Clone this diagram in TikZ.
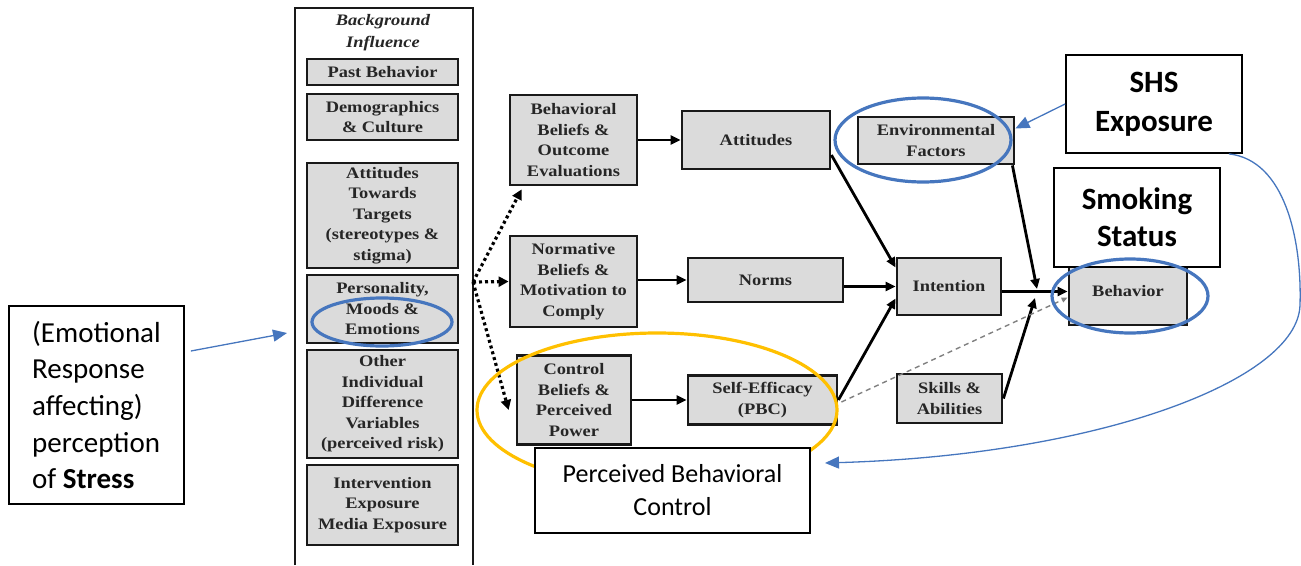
\documentclass[tikz,border=0pt]{standalone}
\usepackage{fontspec}
\setmainfont{Liberation Serif}
\newfontfamily\dfont{Liberation Serif}[FakeStretch=1.15]
\newfontfamily\calfont{Carlito}
\usetikzlibrary{arrows.meta}
\definecolor{boxgray}{RGB}{219,219,219}
\definecolor{annblue}{RGB}{70,118,190}
\definecolor{annyellow}{RGB}{255,192,0}
\tikzset{
  gbox/.style={draw=black!90, line width=2.8pt, fill=boxgray, align=center,
    font=\dfont\bfseries\fontsize{16}{20.5}\selectfont, inner sep=1pt, text=black!85},
  abox/.style={draw=black, line width=1.8pt, fill=white, align=center, inner sep=2pt},
  arr/.style={line width=2.8pt, -{Triangle[length=10pt,width=9pt]}},
  dotarr/.style={line width=3.2pt, dash pattern=on 3pt off 3pt, -{Triangle[length=10pt,width=10pt]}},
  dasharr/.style={gray, line width=1.4pt, dash pattern=on 5pt off 4pt, -{Triangle[length=6pt,width=5pt]}},
  bluearr/.style={annblue, line width=1.3pt, -{Triangle[length=14pt,width=12pt]}},
  blueell/.style={annblue, line width=3.2pt},
  yellell/.style={annyellow, line width=3.2pt},
}
\begin{document}
\begin{tikzpicture}[x=1pt,y=-1pt]
\useasboundingbox (0,0) rectangle (1301,565);
% background influence column
\draw[line width=2.6pt, black!90] (295,565) -- (295,8) -- (473,8) -- (473,565);
\node[font=\dfont\bfseries\itshape\fontsize{16}{22}\selectfont, align=center, text=black!85] (bgtitle) at (383,33) {Background\\Influence};
\node[gbox, minimum width=151pt, minimum height=26pt] (past) at (382.5,72) {Past Behavior};
\node[gbox, minimum width=151pt, minimum height=46pt] (demo) at (382.5,117) {Demographics\\\& Culture};
\node[gbox, minimum width=151pt, minimum height=105pt] (att2) at (382.5,215.5) {Attitudes\\Towards\\Targets\\(stereotypes \&\\stigma)};
\node[gbox, minimum width=151pt, minimum height=68pt] (pers) at (382.5,309) {Personality,\\Moods \&\\Emotions};
\node[gbox, minimum width=151pt, minimum height=108pt] (other) at (382.5,404) {Other\\Individual\\Difference\\Variables\\(perceived risk)};
\node[gbox, minimum width=151pt, minimum height=80pt] (interv) at (382.5,505) {Intervention\\Exposure\\Media Exposure};
\coordinate (fan) at (473,282);
% middle
\node[gbox, minimum width=127pt, minimum height=90pt] (bb) at (573.5,140) {Behavioral\\Beliefs \&\\Outcome\\Evaluations};
\node[gbox, minimum width=148pt, minimum height=58pt] (att) at (756,140) {Attitudes};
\node[gbox, minimum width=127pt, minimum height=91pt] (nb) at (573.5,281.5) {Normative\\Beliefs \&\\Motivation to\\Comply};
\node[gbox, minimum width=155pt, minimum height=44pt] (norms) at (765.5,280) {Norms};
\node[gbox, minimum width=114pt, minimum height=89pt] (cb) at (574,400) {Control\\Beliefs \&\\Perceived\\Power};
\node[gbox, minimum width=149pt, minimum height=49pt] (se) at (762.5,400) {Self-Efficacy\\(PBC)};
% right
\node[gbox, minimum width=156pt, minimum height=47pt] (env) at (936,140.5) {Environmental\\Factors};
\node[gbox, minimum width=104pt, minimum height=57pt] (int) at (949,286.5) {Intention};
\node[gbox, minimum width=118pt, minimum height=67pt] (beh) at (1128,291.5) {Behavior};
\node[gbox, minimum width=105pt, minimum height=49pt] (sk) at (949.5,398.5) {Skills \&\\Abilities};
\coordinate (jt) at (1037,289);
\coordinate (jb) at (1035,298);
% connectors
\draw[arr] (bb.east) -- (att.west);
\draw[arr] (nb.east |- norms.west) -- (norms.west);
\draw[arr] (cb.east) -- (se.west);
\draw[arr] ([yshift=-15pt]att.east) -- ([yshift=19pt]int.west);
\draw[arr] (norms.east |- int.west) -- (int.west);
\draw[arr] (se.east) -- ([yshift=-12pt]int.west);
\draw[arr] (int.east |- beh.west) -- (beh.west);
\draw[arr] ([xshift=-3pt]env.south east) -- (jt);
\draw[arr] (sk.east) -- (jb);
\draw[dasharr] ([xshift=3pt,yshift=-2pt]se.east) -- ([yshift=-6pt]beh.west);
\draw[dotarr] (fan) -- ([xshift=13pt,yshift=-3pt]bb.south west);
\draw[dotarr] (fan) -- (nb.west);
\draw[dotarr] (fan) -- ([xshift=-7pt,yshift=-10pt]cb.west);
% annotations
\draw[yellell] (657,410) ellipse [x radius=180pt, y radius=77pt];
\node[abox, minimum width=275pt, minimum height=85pt, font=\calfont\fontsize{26}{33}\selectfont] (pbc) at (672.5,490.5) {Perceived Behavioral\\Control};
\node[abox, minimum width=176pt, minimum height=98pt, font=\calfont\bfseries\fontsize{31}{39}\selectfont] (shs) at (1154,104) {SHS\\Exposure};
\node[abox, minimum width=166pt, minimum height=99pt, font=\calfont\bfseries\fontsize{31}{37}\selectfont] (smk) at (1137,217.5) {Smoking\\Status};
\node[abox, minimum width=175pt, minimum height=198pt, align=left, font=\calfont\fontsize{29}{36.7}\selectfont] (stress) at (96.5,405) {(Emotional\\Response\\affecting)\\perception\\of {\bfseries Stress}};
\draw[blueell] (382,322) ellipse [x radius=70pt, y radius=24pt];
\draw[blueell] (923,140) ellipse [x radius=88pt, y radius=42pt];
\draw[blueell] (1130,296) ellipse [x radius=78pt, y radius=37pt];
\coordinate (pbcin) at (825,463);
\coordinate (bgin) at (287,333);
\draw[bluearr] (shs.west) -- ([yshift=12pt]env.east);
\draw[bluearr] ([xshift=-14pt]shs.south east) .. controls (1285,160) and (1302,240) .. (1300,305) .. controls (1298,380) and (1100,455) .. (pbcin);
\draw[bluearr] ([xshift=6pt,yshift=54pt]stress.east) -- (bgin);
\end{tikzpicture}
\end{document}
